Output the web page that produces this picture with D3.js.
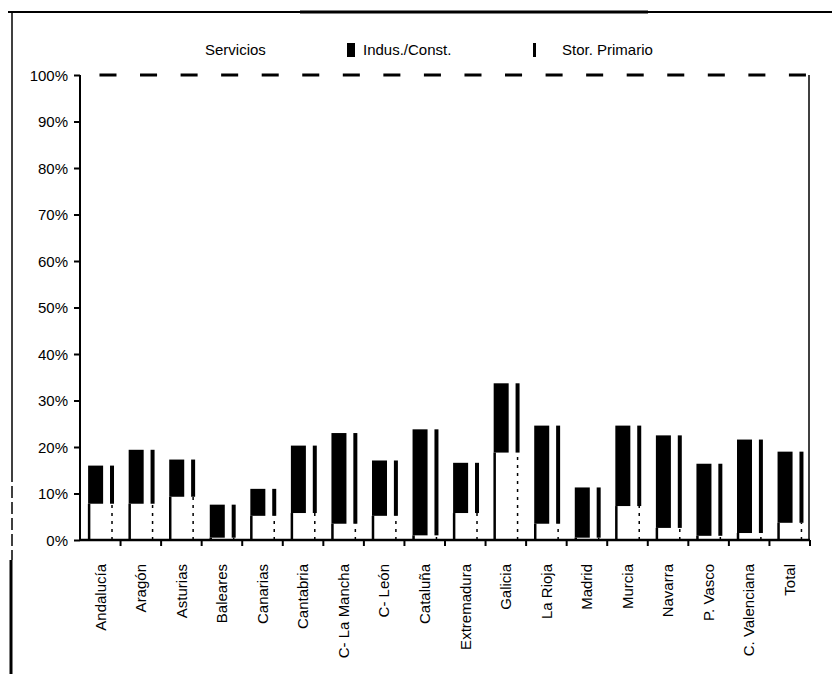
<!DOCTYPE html>
<html>
<head>
<meta charset="utf-8">
<style>
  body { margin: 0; background: #fff; }
  text { font-family: "Liberation Sans", Arial, sans-serif; fill: #000; }
</style>
</head>
<body>
<svg id="chart" width="832" height="674"></svg>
<script src="https://cdnjs.cloudflare.com/ajax/libs/d3/7.8.5/d3.min.js"></script>
<script>
// data (percent)
var categories = ["Andalucía", "Aragón", "Asturias", "Baleares", "Canarias", "Cantabria",
  "C- La Mancha", "C- León", "Cataluña", "Extremadura", "Galicia", "La Rioja", "Madrid",
  "Murcia", "Navarra", "P. Vasco", "C. Valenciana", "Total"];
var primario = [7.8, 7.8, 9.3, 0.5, 5.2, 5.8, 3.5, 5.2, 1.0, 5.8, 18.8, 3.5, 0.5, 7.3, 2.6, 0.9, 1.5, 3.7];
var indus = [8.2, 11.6, 8.0, 7.1, 5.8, 14.5, 19.5, 11.9, 22.8, 10.8, 14.9, 21.1, 10.8, 17.3, 19.9, 15.5, 20.1, 15.3];
var servicios = [84.0, 80.6, 82.7, 92.4, 89.0, 79.7, 77.0, 82.9, 76.2, 83.4, 66.3, 75.4, 88.7, 75.4, 77.5, 83.6, 78.4, 81.0];
var yTicks = [0, 10, 20, 30, 40, 50, 60, 70, 80, 90, 100];
var legendLabels = ["Servicios", "Indus./Const.", "Stor. Primario"];

var svg = d3.select("#chart");
var mLeft = 80, mRight = 810, mTop = 75, mBottom = 540;

var rows = categories.map(function(c, i) {
  return { cat: c, primario: primario[i], indus: indus[i], servicios: servicios[i] };
});
var series = d3.stack().keys(["primario", "indus", "servicios"])(rows);

var x = d3.scaleBand().domain(categories).range([mLeft, mRight]);
var y = d3.scaleLinear().domain([0, 100]).range([mBottom, mTop]);
var bw = x.bandwidth();

// page frame from the scan
svg.append("line").attr("x1", 8).attr("x2", 832).attr("y1", 12).attr("y2", 12)
  .attr("stroke", "#000").attr("stroke-width", 2);
svg.append("line").attr("x1", 300).attr("x2", 648).attr("y1", 12).attr("y2", 12)
  .attr("stroke", "#000").attr("stroke-width", 3);
svg.append("line").attr("x1", 12).attr("x2", 12).attr("y1", 12).attr("y2", 470)
  .attr("stroke", "#000").attr("stroke-width", 1.5);
svg.append("line").attr("x1", 12).attr("x2", 12).attr("y1", 470).attr("y2", 560)
  .attr("stroke", "#000").attr("stroke-width", 1.5).attr("stroke-dasharray", "12,4");
svg.append("line").attr("x1", 11).attr("x2", 11).attr("y1", 560).attr("y2", 674)
  .attr("stroke", "#000").attr("stroke-width", 3);

var g = svg.append("g");

// Stor. Primario (white part, left edge visible)
g.selectAll("line.prim").data(series[0]).enter().append("line")
  .attr("class", "prim")
  .attr("x1", function(d) { return x(d.data.cat) + bw * 0.2 + 1; })
  .attr("x2", function(d) { return x(d.data.cat) + bw * 0.2 + 1; })
  .attr("y1", function(d) { return y(d[0]); })
  .attr("y2", function(d) { return y(d[1]); })
  .attr("stroke", "#000").attr("stroke-width", 2.5);

// Indus./Const. (black)
g.selectAll("rect.ind").data(series[1]).enter().append("rect")
  .attr("class", "ind")
  .attr("x", function(d) { return x(d.data.cat) + bw * 0.2; })
  .attr("width", bw * 0.37)
  .attr("y", function(d) { return y(d[1]); })
  .attr("height", function(d) { return y(d[0]) - y(d[1]); })
  .attr("fill", "#000");

// thin second bar
g.selectAll("rect.thin").data(series[1]).enter().append("rect")
  .attr("class", "thin")
  .attr("x", function(d) { return x(d.data.cat) + bw * 0.74; })
  .attr("width", 4)
  .attr("y", function(d) { return y(d[1]); })
  .attr("height", function(d) { return y(d[0]) - y(d[1]); })
  .attr("fill", "#000");
g.selectAll("line.thinp").data(series[0]).enter().append("line")
  .attr("class", "thinp")
  .attr("x1", function(d) { return x(d.data.cat) + bw * 0.74 + 2; })
  .attr("x2", function(d) { return x(d.data.cat) + bw * 0.74 + 2; })
  .attr("y1", function(d) { return y(d[0]); })
  .attr("y2", function(d) { return y(d[1]); })
  .attr("stroke", "#000").attr("stroke-width", 1.5).attr("stroke-dasharray", "3,5");

// Servicios: white, only its top edge shows as a dash at 100%
g.selectAll("line.serv").data(series[2]).enter().append("line")
  .attr("class", "serv")
  .attr("x1", function(d) { return x(d.data.cat) + bw * 0.48; })
  .attr("x2", function(d) { return x(d.data.cat) + bw * 0.9; })
  .attr("y1", function(d) { return y(d[1]); })
  .attr("y2", function(d) { return y(d[1]); })
  .attr("stroke", "#000").attr("stroke-width", 3);

// axes
var yAxis = d3.axisLeft(y).tickValues(yTicks).tickFormat(function(d) { return d + "%"; })
  .tickSize(6).tickPadding(6);
var ya = svg.append("g").attr("transform", "translate(" + mLeft + ",0)").call(yAxis);
ya.select(".domain").remove();
ya.append("line").attr("y1", mTop).attr("y2", mBottom).attr("stroke", "#000").attr("stroke-width", 2);
ya.selectAll("line").attr("stroke", "#000").attr("stroke-width", 2);
ya.selectAll("text").style("font-size", "15px").attr("dy", "0.35em");

var xb = svg.append("g").attr("transform", "translate(0," + mBottom + ")");
xb.append("line").attr("x1", mLeft).attr("x2", mRight).attr("stroke", "#000").attr("stroke-width", 2.5);
xb.selectAll("line.tk").data(categories).enter().append("line")
  .attr("class", "tk")
  .attr("x1", function(d) { return x(d) + bw; }).attr("x2", function(d) { return x(d) + bw; })
  .attr("y1", 0).attr("y2", 6).attr("stroke", "#000").attr("stroke-width", 2);
xb.selectAll("text").data(categories).enter().append("text")
  .attr("transform", function(d) { return "translate(" + (x(d) + bw / 2) + ",24) rotate(-90)"; })
  .attr("text-anchor", "end").attr("dy", "0.35em")
  .style("font-size", "15px")
  .text(function(d) { return d; });

// right edge of plot
svg.append("line").attr("x1", mRight - 1).attr("x2", mRight - 1).attr("y1", mTop).attr("y2", mBottom)
  .attr("stroke", "#000").attr("stroke-width", 1.5);

// legend
var lg = svg.append("g").attr("transform", "translate(0,50)");
var legX = [205, 363, 562];
lg.selectAll("text").data(legendLabels).enter().append("text")
  .attr("x", function(d, i) { return legX[i]; })
  .attr("dy", "0.35em").style("font-size", "15px")
  .text(function(d) { return d; });
lg.append("rect").attr("x", 347).attr("y", -7).attr("width", 8).attr("height", 14).attr("fill", "#000");
lg.append("rect").attr("x", 533).attr("y", -7).attr("width", 3).attr("height", 14).attr("fill", "#000");
</script>
</body>
</html>
